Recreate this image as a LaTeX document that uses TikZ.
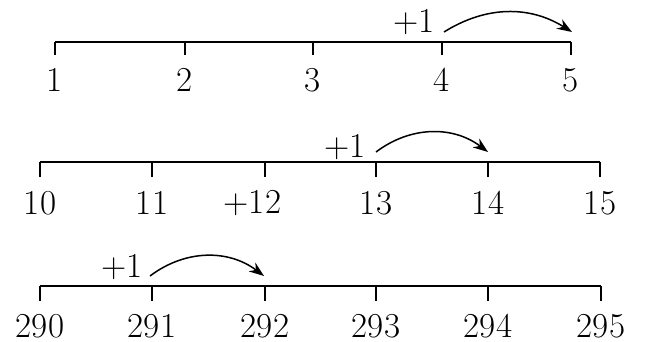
\documentclass[tikz,border=0pt]{standalone}
\usepackage{tikz}
\usetikzlibrary{arrows.meta,positioning}

\begin{document}
\begin{tikzpicture}[x=1pt,y=1pt,
  every node/.style={font=\fontsize{35}{42}\selectfont,inner sep=0pt},
  tickmark/.style={line width=2.4pt},
  numline/.style={line width=1.8pt},
  hop/.style={-{Stealth[length=15pt,width=11pt]},line width=1.5pt}]
  \useasboundingbox (0,0) rectangle (646,341);

  % line 1: 1 .. 5
  \foreach \n/\x in {1/55,2/185,3/313,4/442,5/571}{
    \coordinate (a\n) at (\x,299);
    \coordinate (a\n b) at (\x,286);
    \draw[tickmark] (a\n) -- (a\n b);
    \node (la\n) at (\x,261) {\n};
  }
  \draw[numline] (a1) -- (a5);
  \coordinate (a4up) at (444,309);
  \coordinate (a5up) at (572,309);
  \draw[hop] (a4up) to[bend left=32] (a5up);
  \node (pa) at (414,319) {+1};

  % line 2: 10 .. 15
  \foreach \n/\x/\t in {10/40/10,11/152/11,12/265/\llap{+}12,13/376/13,14/488/14,15/600/15}{
    \coordinate (b\n) at (\x,179);
    \coordinate (b\n b) at (\x,164);
    \draw[tickmark] (b\n) -- (b\n b);
    \node (lb\n) at (\x,138) {\t};
  }
  \draw[numline] (b10) -- (b15);
  \coordinate (b13up) at (376,189);
  \coordinate (b14up) at (488,189);
  \draw[hop] (b13up) to[bend left=37] (b14up);
  \node (pb) at (345,194) {+1};

  % line 3: 290 .. 295
  \foreach \n/\x in {290/40,291/152,292/265,293/376,294/488,295/601}{
    \coordinate (c\n) at (\x,55);
    \coordinate (c\n b) at (\x,40);
    \draw[tickmark] (c\n) -- (c\n b);
    \node (lc\n) at (\x,15) {\n};
  }
  \draw[numline] (c290) -- (c295);
  \coordinate (c291up) at (150,65);
  \coordinate (c292up) at (264,65);
  \draw[hop] (c291up) to[bend left=37] (c292up);
  \node (pc) at (122,74) {+1};
\end{tikzpicture}
\end{document}
